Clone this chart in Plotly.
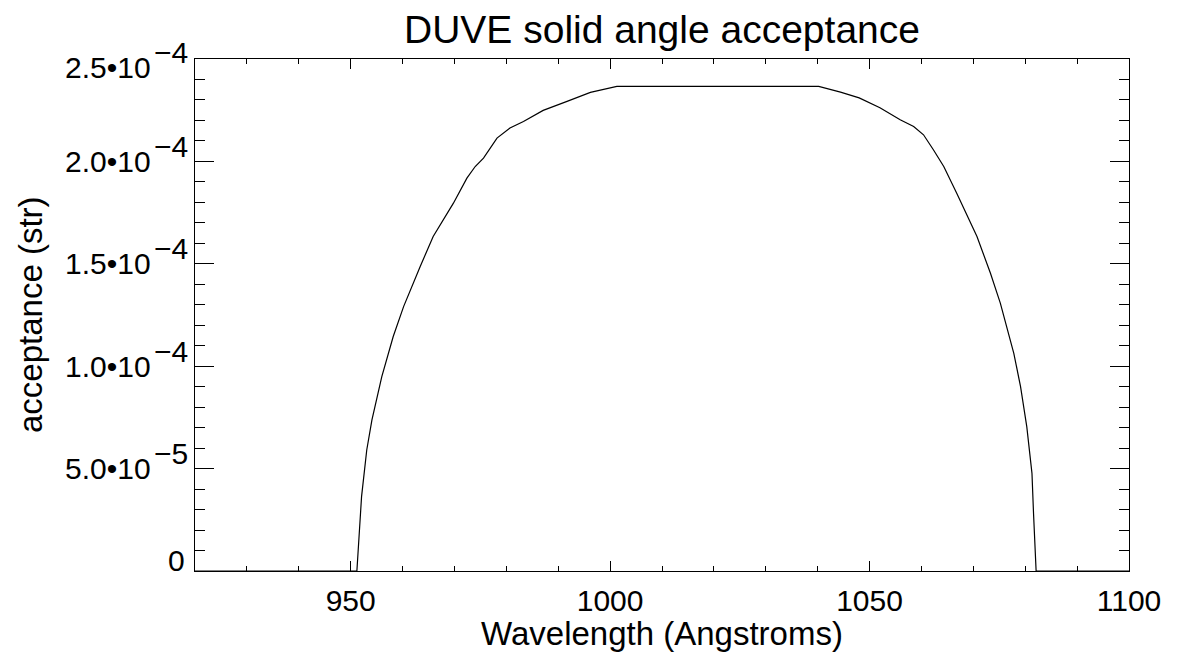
import plotly.graph_objects as go

# Solid angle acceptance of DUVE versus wavelength
wavelength = [920.0, 951.2, 952.1, 953.1, 954.1, 956.0, 958.2, 960.2, 963.4, 965.9,
              969.8, 972.4, 974.0, 975.6, 978.2, 980.7, 983.3, 987.1, 991.7, 996.2,
              1001.3, 1040.2, 1044.4, 1048.0, 1052.0, 1055.9, 1058.5, 1060.4, 1062.3,
              1064.3, 1066.8, 1070.7, 1073.3, 1075.2, 1077.8, 1079.1, 1080.3, 1081.3,
              1081.6, 1082.1, 1100.0]
acceptance = [0.0, 0.0, 3.63e-5, 5.91e-5, 7.38e-5, 9.49e-5, 11.45e-5, 12.91e-5, 14.87e-5,
              16.33e-5, 17.96e-5, 19.18e-5, 19.75e-5, 20.16e-5, 21.14e-5, 21.63e-5,
              21.95e-5, 22.49e-5, 22.93e-5, 23.37e-5, 23.66e-5, 23.66e-5, 23.38e-5,
              23.10e-5, 22.62e-5, 22.03e-5, 21.70e-5, 21.30e-5, 20.57e-5, 19.75e-5,
              18.45e-5, 16.33e-5, 14.54e-5, 13.08e-5, 10.63e-5, 9.00e-5, 7.05e-5,
              4.77e-5, 2.82e-5, 0.0, 0.0]

# y tick labels: mantissa, exponent
ytick_vals = [0.0, 5e-5, 1e-4, 1.5e-4, 2e-4, 2.5e-4]
ytick_mant = ["0", "5.0\u202210", "1.0\u202210", "1.5\u202210", "2.0\u202210", "2.5\u202210"]
ytick_exp = ["", "\u22125", "\u22124", "\u22124", "\u22124", "\u22124"]
# vertical nudges keep the end labels inside the frame
ytick_nudge = [11, 0, 0, 0, 0, -8]

FONT = "Liberation Sans, Arial, Helvetica, sans-serif"
W, H = 1178, 658
L, R, T, B = 195, 49, 59, 87

fig = go.Figure()
fig.add_trace(go.Scatter(x=wavelength, y=acceptance, mode="lines",
                         line=dict(color="black", width=1.2), showlegend=False,
                         hoverinfo="skip"))

axis_common = dict(showline=True, linecolor="black", linewidth=1, mirror="ticks",
                   ticks="inside", tickcolor="black", tickwidth=1,
                   showgrid=False, zeroline=False)

fig.update_xaxes(range=[920, 1100], tick0=950, dtick=50, ticklen=10,
                 minor=dict(ticks="inside", dtick=10, ticklen=5, tickcolor="black",
                            tickwidth=1, showgrid=False),
                 tickfont=dict(family=FONT, size=30, color="black"),
                 ticklabelstandoff=3, **axis_common)
fig.update_yaxes(range=[0, 2.5e-4], tick0=0, dtick=5e-5, ticklen=19,
                 minor=dict(ticks="inside", dtick=1e-5, ticklen=10, tickcolor="black",
                            tickwidth=1, showgrid=False),
                 showticklabels=False, **axis_common)

ann = []
for v, m, e, dy in zip(ytick_vals, ytick_mant, ytick_exp, ytick_nudge):
    if e:
        ann.append(dict(xref="paper", yref="y", x=0, y=v, text=m, showarrow=False,
                        xanchor="right", yanchor="middle", xshift=-42, yshift=dy,
                        font=dict(family=FONT, size=30, color="black")))
        ann.append(dict(xref="paper", yref="y", x=0, y=v, text=e, showarrow=False,
                        xanchor="left", yanchor="middle", xshift=-43, yshift=dy + 15,
                        font=dict(family=FONT, size=30, color="black")))
    else:
        ann.append(dict(xref="paper", yref="y", x=0, y=v, text=m, showarrow=False,
                        xanchor="right", yanchor="middle", xshift=-8, yshift=dy,
                        font=dict(family=FONT, size=30, color="black")))

ann.append(dict(xref="paper", yref="paper", x=0.5, y=1, text="DUVE solid angle acceptance",
                showarrow=False, xanchor="center", yanchor="middle", yshift=30,
                font=dict(family=FONT, size=39, color="black")))
ann.append(dict(xref="paper", yref="paper", x=0.5, y=0, text="Wavelength (Angstroms)",
                showarrow=False, xanchor="center", yanchor="middle", yshift=-62,
                font=dict(family=FONT, size=33, color="black")))
ann.append(dict(xref="paper", yref="paper", x=0, y=0.5, text="acceptance (str)",
                showarrow=False, xanchor="center", yanchor="middle", xshift=-165,
                textangle=-90, font=dict(family=FONT, size=33, color="black")))

fig.update_layout(width=W, height=H, margin=dict(l=L, r=R, t=T, b=B),
                  paper_bgcolor="white", plot_bgcolor="white", annotations=ann)

fig.write_html("out.html")
